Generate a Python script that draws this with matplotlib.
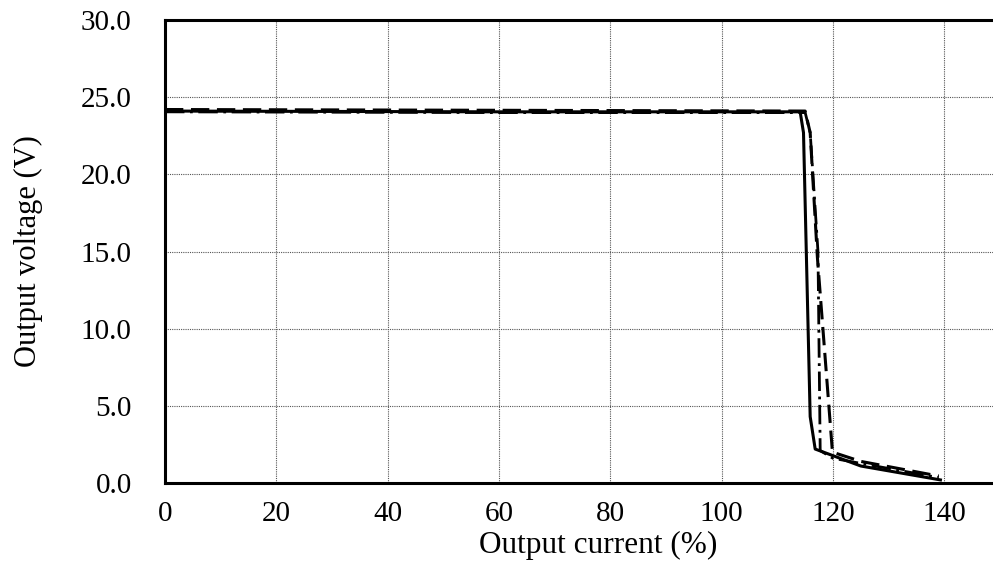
import numpy as np
from matplotlib import pyplot as plt
from matplotlib.ticker import FormatStrFormatter

#%% data (output current %, output voltage V)
cur_a = [0, 60, 114.1, 114.7, 115.9, 116.8, 125, 139.3]
volt_a = [24.1, 24.05, 24.05, 22.7, 4.3, 2.2, 1.1, 0.2]

cur_b = [0, 60, 115.0, 115.9, 117.2, 118.1, 119.9, 125, 139]
volt_b = [24.2, 24.15, 24.1, 22.7, 14.6, 10.4, 2.0, 1.4, 0.45]

cur_c = [0, 60, 115.0, 115.9, 117.3, 117.7, 120, 139]
volt_c = [24.05, 24.0, 24.0, 22.7, 15.0, 2.1, 1.6, 0.35]

x_ticks = [0, 20, 40, 60, 80, 100, 120, 140]
y_ticks = [0, 5, 10, 15, 20, 25, 30]

#%% plot
plt.rcParams['font.family'] = ['Liberation Serif', 'DejaVu Serif']
fig = plt.figure(figsize=(9.93, 5.67), dpi=100)
ax = fig.add_axes([165/993, 84/567, 835/993, 463/567])

ax.plot(cur_a, volt_a, color='black', lw=2.2, ls='-')
ax.plot(cur_b, volt_b, color='black', lw=2.2, ls=(0, (6, 2.5)))
ax.plot(cur_c, volt_c, color='black', lw=2.0, ls=(0, (7, 2, 1, 2)))

ax.set_xlim(0, 150)
ax.set_ylim(0, 30)
ax.set_xticks(x_ticks)
ax.set_yticks(y_ticks)
ax.yaxis.set_major_formatter(FormatStrFormatter('%.1f'))
ax.tick_params(length=0, labelsize=21)
ax.tick_params(axis='y', pad=24)
ax.tick_params(axis='x', pad=13)
ax.grid(True, color='#555555', ls=(0, (1, 1)), lw=0.8)

for s in ['left', 'bottom', 'top']:
    ax.spines[s].set_linewidth(2.2)
ax.spines['right'].set_visible(False)

ax.set_xlabel("Output current (%)", fontsize=22.5, labelpad=3, x=0.519)
ax.set_ylabel("Output voltage (V)", fontsize=22, labelpad=27)

fig.savefig("out.png", dpi=100)
